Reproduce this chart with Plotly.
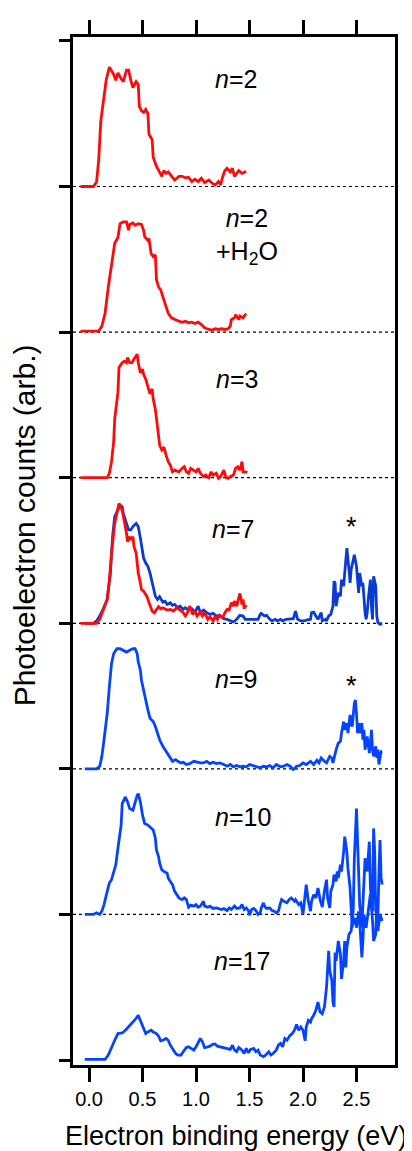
import plotly.graph_objects as go

# ---------------- data ----------------
x_n2 = [-0.08, 0.04, 0.07, 0.09, 0.11, 0.13, 0.16, 0.19, 0.23, 0.25, 0.27, 0.30, 0.32, 0.35, 0.37, 0.39,
        0.41, 0.44, 0.46, 0.47, 0.49, 0.51, 0.53, 0.55, 0.56, 0.59, 0.60, 0.63, 0.65, 0.68, 0.70, 0.72,
        0.74, 0.77, 0.80, 0.84, 0.87, 0.90, 0.93, 0.96, 0.99, 1.02, 1.05, 1.08, 1.12, 1.15, 1.18, 1.21,
        1.23, 1.25, 1.27, 1.29, 1.32, 1.34, 1.36, 1.40, 1.43, 1.46, 1.47]
y_n2 = [0.0, 0.0, 0.03, 0.18, 0.45, 0.57, 0.73, 0.82, 0.77, 0.73, 0.78, 0.74, 0.72, 0.80, 0.80, 0.73,
        0.68, 0.72, 0.70, 0.55, 0.52, 0.51, 0.53, 0.50, 0.36, 0.32, 0.20, 0.14, 0.11, 0.07, 0.11, 0.09,
        0.10, 0.07, 0.045, 0.07, 0.07, 0.06, 0.064, 0.034, 0.05, 0.034, 0.057, 0.027, 0.045, 0.023, 0.011, 0.034,
        0.011, 0.07, 0.11, 0.125, 0.10, 0.125, 0.07, 0.11, 0.09, 0.10, 0.10]

x_n2w = [-0.08, 0.09, 0.12, 0.15, 0.18, 0.21, 0.24, 0.27, 0.29, 0.32, 0.35, 0.37, 0.38, 0.41, 0.43, 0.46,
         0.49, 0.51, 0.52, 0.55, 0.56, 0.58, 0.60, 0.62, 0.63, 0.65, 0.67, 0.70, 0.72, 0.74, 0.77, 0.80,
         0.84, 0.87, 0.90, 0.93, 0.96, 0.99, 1.02, 1.05, 1.08, 1.12, 1.15, 1.18, 1.21, 1.24, 1.27, 1.30,
         1.32, 1.33, 1.36, 1.37, 1.40, 1.41, 1.44, 1.46, 1.47]
y_n2w = [0.007, 0.007, 0.04, 0.13, 0.31, 0.47, 0.61, 0.65, 0.745, 0.757, 0.757, 0.70, 0.74, 0.75, 0.734, 0.745,
         0.74, 0.70, 0.655, 0.63, 0.643, 0.54, 0.518, 0.53, 0.36, 0.31, 0.29, 0.22, 0.177, 0.13, 0.098, 0.086,
         0.075, 0.068, 0.075, 0.064, 0.068, 0.059, 0.068, 0.052, 0.03, 0.018, 0.014, 0.023, 0.018, 0.023, 0.018, 0.023,
         0.04, 0.086, 0.098, 0.12, 0.086, 0.11, 0.098, 0.12, 0.125]

x_n3 = [-0.08, 0.17, 0.19, 0.21, 0.23, 0.24, 0.27, 0.28, 0.31, 0.33, 0.35, 0.36, 0.38, 0.40, 0.42, 0.45,
        0.46, 0.48, 0.50, 0.51, 0.53, 0.56, 0.57, 0.59, 0.60, 0.62, 0.63, 0.65, 0.66, 0.68, 0.70, 0.72,
        0.74, 0.76, 0.78, 0.80, 0.84, 0.87, 0.89, 0.91, 0.93, 0.95, 0.98, 1.00, 1.02, 1.04, 1.07, 1.09,
        1.12, 1.14, 1.16, 1.19, 1.21, 1.23, 1.26, 1.28, 1.30, 1.32, 1.35, 1.37, 1.39, 1.41, 1.43, 1.44,
        1.46, 1.48]
y_n3 = [0.0, 0.0, 0.03, 0.11, 0.245, 0.405, 0.586, 0.757, 0.79, 0.80, 0.79, 0.825, 0.79, 0.79, 0.814, 0.848,
        0.79, 0.72, 0.745, 0.71, 0.677, 0.61, 0.575, 0.61, 0.54, 0.47, 0.405, 0.314, 0.223, 0.19, 0.21, 0.155,
        0.11, 0.086, 0.04, 0.052, 0.04, 0.064, 0.075, 0.04, 0.03, 0.064, 0.052, 0.04, 0.064, 0.03, 0.007, 0.018,
        0.0, 0.04, 0.018, 0.03, -0.005, 0.007, 0.052, 0.0, -0.005, 0.007, 0.018, 0.064, 0.075, 0.052, 0.11, 0.04,
        0.04, 0.036]

x_n7_red = [-0.08, 0.07, 0.10, 0.13, 0.17, 0.19, 0.21, 0.24, 0.27, 0.28, 0.31, 0.33, 0.35, 0.36, 0.38, 0.39,
            0.41, 0.42, 0.44, 0.45, 0.46, 0.48, 0.49, 0.51, 0.52, 0.54, 0.55, 0.57, 0.59, 0.61, 0.63, 0.65,
            0.67, 0.69, 0.73, 0.76, 0.79, 0.82, 0.85, 0.88, 0.90, 0.92, 0.94, 0.97, 0.99, 1.01, 1.04, 1.06,
            1.08, 1.11, 1.13, 1.16, 1.18, 1.20, 1.22, 1.25, 1.27, 1.29, 1.31, 1.33, 1.35, 1.36, 1.38, 1.40,
            1.41, 1.43, 1.44, 1.45, 1.46, 1.47]
y_n7_red = [0.0, 0.0, 0.027, 0.084, 0.164, 0.30, 0.482, 0.686, 0.80, 0.823, 0.777, 0.709, 0.618, 0.561, 0.595, 0.573,
            0.595, 0.527, 0.482, 0.414, 0.345, 0.277, 0.232, 0.22, 0.209, 0.186, 0.164, 0.118, 0.084, 0.073, 0.095, 0.114,
            0.10, 0.107, 0.091, 0.095, 0.084, 0.107, 0.091, 0.073, 0.05, 0.073, 0.118, 0.061, 0.084, 0.05, 0.077, 0.05,
            0.073, 0.027, 0.045, 0.016, 0.05, 0.027, 0.055, 0.039, 0.073, 0.095, 0.091, 0.141, 0.118, 0.152, 0.118, 0.186,
            0.205, 0.13, 0.164, 0.10, 0.123, 0.111]

x_n7_blue = [-0.04, 0.04, 0.07, 0.10, 0.13, 0.17, 0.20, 0.22, 0.24, 0.27, 0.29, 0.31, 0.32, 0.35, 0.37, 0.39,
             0.41, 0.44, 0.46, 0.48, 0.50, 0.51, 0.53, 0.55, 0.57, 0.59, 0.60, 0.62, 0.64, 0.66, 0.69, 0.71,
             0.73, 0.76, 0.78, 0.80, 0.83, 0.85, 0.88, 0.90, 0.93, 0.96, 0.99, 1.02, 1.04, 1.07, 1.10, 1.13,
             1.16, 1.19, 1.22, 1.26, 1.29, 1.32, 1.35, 1.38, 1.41, 1.44, 1.46, 1.49, 1.52, 1.55, 1.58, 1.60,
             1.61, 1.64, 1.66, 1.69, 1.71, 1.74, 1.76, 1.79, 1.81, 1.84, 1.88, 1.91, 1.93, 1.95, 1.98, 2.01,
             2.04, 2.07, 2.08, 2.10, 2.12, 2.14, 2.17, 2.18, 2.21, 2.22, 2.24, 2.26, 2.28, 2.29, 2.30, 2.31,
             2.33, 2.35, 2.36, 2.38, 2.39, 2.40, 2.41, 2.43, 2.44, 2.45, 2.47, 2.48, 2.50, 2.51, 2.52, 2.53,
             2.55, 2.56, 2.57, 2.58, 2.59, 2.60, 2.61, 2.63, 2.64, 2.65, 2.66, 2.68, 2.69, 2.70, 2.72, 2.74]
y_n7_blue = [0.0, 0.0, 0.016, 0.05, 0.095, 0.164, 0.345, 0.595, 0.732, 0.777, 0.811, 0.80, 0.755, 0.686, 0.641, 0.641,
             0.664, 0.686, 0.664, 0.584, 0.493, 0.448, 0.414, 0.391, 0.345, 0.277, 0.232, 0.186, 0.164, 0.182, 0.145, 0.152,
             0.13, 0.141, 0.123, 0.13, 0.107, 0.118, 0.095, 0.107, 0.091, 0.10, 0.077, 0.118, 0.073, 0.091, 0.073, 0.061,
             0.068, 0.05, 0.055, 0.032, 0.027, 0.016, 0.009, 0.027, 0.055, 0.05, 0.027, 0.027, 0.027, 0.032, 0.027, 0.061,
             0.068, 0.05, 0.055, 0.027, 0.016, 0.027, 0.016, 0.027, 0.016, 0.027, 0.027, 0.032, 0.084, 0.027, 0.016, 0.016,
             0.023, 0.027, 0.073, 0.077, 0.05, 0.027, 0.073, 0.016, 0.027, 0.016, 0.05, 0.061, 0.118, 0.289, 0.277, 0.118,
             0.209, 0.186, 0.30, 0.255, 0.345, 0.459, 0.516, 0.368, 0.277, 0.368, 0.436, 0.47, 0.391, 0.323, 0.209, 0.345,
             0.255, 0.277, 0.141, 0.073, 0.027, 0.073, 0.164, 0.30, 0.118, 0.027, 0.323, 0.255, 0.05, 0.005, -0.007, 0.0]

x_n9 = [-0.04, 0.07, 0.10, 0.12, 0.14, 0.17, 0.19, 0.21, 0.23, 0.26, 0.29, 0.32, 0.35, 0.38, 0.41, 0.43,
        0.45, 0.46, 0.48, 0.49, 0.51, 0.53, 0.55, 0.57, 0.60, 0.62, 0.64, 0.66, 0.69, 0.72, 0.75, 0.78,
        0.81, 0.83, 0.86, 0.88, 0.91, 0.94, 0.98, 1.01, 1.04, 1.07, 1.10, 1.13, 1.16, 1.19, 1.22, 1.26,
        1.29, 1.32, 1.35, 1.38, 1.41, 1.44, 1.47, 1.50, 1.54, 1.57, 1.60, 1.63, 1.66, 1.69, 1.72, 1.75,
        1.79, 1.82, 1.85, 1.88, 1.91, 1.94, 1.97, 2.00, 2.03, 2.07, 2.10, 2.13, 2.15, 2.17, 2.20, 2.22,
        2.25, 2.27, 2.28, 2.30, 2.31, 2.33, 2.35, 2.36, 2.38, 2.39, 2.41, 2.42, 2.44, 2.45, 2.46, 2.48,
        2.49, 2.50, 2.51, 2.52, 2.53, 2.55, 2.56, 2.57, 2.58, 2.60, 2.61, 2.62, 2.63, 2.64, 2.65, 2.66,
        2.68, 2.69, 2.70, 2.71, 2.73, 2.74]
y_n9 = [0.0, 0.0, 0.018, 0.086, 0.20, 0.382, 0.564, 0.723, 0.791, 0.825, 0.825, 0.814, 0.802, 0.814, 0.825, 0.825,
        0.791, 0.734, 0.677, 0.609, 0.541, 0.45, 0.405, 0.348, 0.325, 0.291, 0.245, 0.20, 0.155, 0.12, 0.086, 0.052,
        0.064, 0.052, 0.041, 0.045, 0.03, 0.036, 0.052, 0.045, 0.041, 0.041, 0.052, 0.036, 0.045, 0.036, 0.041, 0.03,
        0.018, 0.03, 0.014, 0.023, 0.014, 0.018, 0.014, 0.03, 0.018, 0.014, 0.007, 0.018, 0.014, 0.023, 0.007, 0.03,
        0.014, 0.018, 0.03, 0.018, -0.005, 0.018, 0.023, 0.041, 0.03, 0.052, 0.03, 0.059, 0.041, 0.075, 0.052, 0.041,
        0.086, 0.075, 0.041, 0.109, 0.132, 0.177, 0.189, 0.245, 0.325, 0.268, 0.314, 0.245, 0.37, 0.314, 0.291, 0.45,
        0.473, 0.382, 0.245, 0.314, 0.245, 0.314, 0.20, 0.268, 0.132, 0.223, 0.155, 0.109, 0.177, 0.268, 0.132, 0.086,
        0.155, 0.075, 0.132, 0.03, 0.12, 0.123]

x_n10 = [-0.04, 0.04, 0.07, 0.10, 0.12, 0.14, 0.17, 0.19, 0.21, 0.23, 0.25, 0.27, 0.30, 0.31, 0.34, 0.36,
         0.38, 0.41, 0.43, 0.45, 0.46, 0.48, 0.50, 0.52, 0.55, 0.57, 0.60, 0.62, 0.63, 0.65, 0.66, 0.68,
         0.70, 0.73, 0.74, 0.76, 0.78, 0.80, 0.82, 0.84, 0.87, 0.89, 0.91, 0.93, 0.95, 0.98, 1.00, 1.02,
         1.04, 1.07, 1.08, 1.11, 1.13, 1.16, 1.19, 1.22, 1.24, 1.26, 1.29, 1.31, 1.33, 1.36, 1.38, 1.41,
         1.43, 1.45, 1.47, 1.49, 1.50, 1.52, 1.54, 1.56, 1.58, 1.60, 1.61, 1.63, 1.64, 1.66, 1.69, 1.71,
         1.73, 1.75, 1.77, 1.79, 1.80, 1.82, 1.85, 1.87, 1.89, 1.92, 1.93, 1.96, 1.98, 2.00, 2.02, 2.03,
         2.05, 2.07, 2.08, 2.10, 2.12, 2.14, 2.16, 2.18, 2.20, 2.22, 2.23, 2.25, 2.26, 2.28, 2.29, 2.31,
         2.32, 2.33, 2.35, 2.36, 2.38, 2.39, 2.41, 2.42, 2.44, 2.45, 2.46, 2.47, 2.48, 2.50, 2.51, 2.52,
         2.53, 2.55, 2.56, 2.57, 2.58, 2.60, 2.61, 2.62, 2.63, 2.65, 2.66, 2.67, 2.68, 2.70, 2.71, 2.72,
         2.73, 2.74]
y_n10 = [0.0, 0.0, 0.011, 0.0, 0.023, 0.068, 0.159, 0.216, 0.239, 0.284, 0.341, 0.455, 0.614, 0.761, 0.807, 0.773,
         0.727, 0.716, 0.773, 0.818, 0.83, 0.773, 0.682, 0.625, 0.614, 0.602, 0.58, 0.523, 0.443, 0.398, 0.352, 0.307,
         0.295, 0.284, 0.25, 0.227, 0.205, 0.159, 0.136, 0.114, 0.102, 0.114, 0.102, 0.05, 0.064, 0.057, 0.068, 0.05,
         0.057, 0.091, 0.057, 0.05, 0.057, 0.041, 0.045, 0.041, 0.034, 0.041, 0.027, 0.045, 0.034, 0.057, 0.041, 0.045,
         0.068, 0.034, 0.045, 0.027, -0.005, 0.034, 0.041, 0.027, 0.0, 0.011, 0.045, 0.08, 0.057, 0.041, 0.045, 0.027,
         0.023, 0.011, 0.023, 0.08, 0.102, 0.091, 0.08, 0.102, 0.114, 0.091, 0.102, 0.068, 0.08, 0.0, 0.114, 0.205,
         0.091, 0.023, 0.091, 0.136, 0.114, 0.182, 0.102, 0.05, 0.159, 0.239, 0.114, 0.045, 0.159, 0.205, 0.273, 0.227,
         0.295, 0.25, 0.341, 0.295, 0.432, 0.534, 0.432, 0.318, 0.182, 0.023, -0.091, 0.045, 0.386, 0.727, 0.523, 0.227,
         0.068, -0.091, 0.114, 0.295, 0.386, 0.295, 0.432, 0.50, 0.182, 0.023, 0.591, 0.432, 0.023, -0.023, 0.295, 0.511,
         0.25, 0.205]

x_n17 = [-0.04, 0.15, 0.18, 0.21, 0.24, 0.27, 0.31, 0.34, 0.37, 0.40, 0.43, 0.46, 0.48, 0.51, 0.53, 0.55,
         0.58, 0.60, 0.63, 0.65, 0.67, 0.69, 0.72, 0.74, 0.76, 0.79, 0.81, 0.83, 0.86, 0.88, 0.91, 0.93,
         0.95, 0.98, 1.00, 1.02, 1.04, 1.06, 1.08, 1.11, 1.13, 1.16, 1.18, 1.20, 1.22, 1.25, 1.27, 1.29,
         1.32, 1.34, 1.36, 1.38, 1.40, 1.43, 1.45, 1.47, 1.49, 1.51, 1.54, 1.56, 1.58, 1.60, 1.63, 1.65,
         1.68, 1.70, 1.72, 1.75, 1.77, 1.79, 1.81, 1.83, 1.85, 1.88, 1.90, 1.92, 1.94, 1.96, 1.98, 2.00,
         2.02, 2.03, 2.05, 2.07, 2.08, 2.10, 2.12, 2.14, 2.15, 2.16, 2.18, 2.20, 2.22, 2.24, 2.25, 2.27,
         2.28, 2.29, 2.30, 2.31, 2.33, 2.35, 2.36, 2.38, 2.39, 2.40, 2.41, 2.43, 2.45, 2.46, 2.48, 2.49,
         2.50, 2.52, 2.53, 2.55, 2.56, 2.57, 2.59, 2.61, 2.63, 2.65, 2.66, 2.68, 2.69, 2.70, 2.72, 2.74]
y_n17 = [0.005, 0.005, 0.034, 0.091, 0.136, 0.182, 0.186, 0.205, 0.227, 0.25, 0.277, 0.307, 0.273, 0.216, 0.182, 0.193,
         0.205, 0.193, 0.182, 0.164, 0.132, 0.136, 0.148, 0.136, 0.102, 0.068, 0.045, 0.034, 0.034, 0.057, 0.086, 0.091,
         0.08, 0.068, 0.091, 0.125, 0.148, 0.125, 0.086, 0.091, 0.095, 0.109, 0.109, 0.095, 0.091, 0.086, 0.08, 0.08,
         0.073, 0.102, 0.068, 0.057, 0.086, 0.068, 0.045, 0.08, 0.05, 0.073, 0.08, 0.057, 0.068, 0.034, 0.023, 0.034,
         0.057, 0.034, 0.045, 0.068, 0.102, 0.114, 0.091, 0.148, 0.136, 0.17, 0.182, 0.205, 0.245, 0.205, 0.227, 0.205,
         0.132, 0.227, 0.273, 0.261, 0.284, 0.307, 0.341, 0.398, 0.364, 0.33, 0.318, 0.364, 0.50, 0.75, 0.614, 0.545,
         0.398, 0.364, 0.739, 0.682, 0.818, 0.727, 0.557, 0.682, 0.818, 0.636, 0.773, 0.864, 0.886, 0.955, 0.932, 0.977,
         0.909, 1.02, 0.955, 0.705, 0.818, 1.0, 0.909, 1.02, 1.14, 0.955, 0.818, 0.864, 1.09, 0.886, 1.0, 0.955]

# panels from top to bottom: label, traces (x, y, colour key)
panel_labels = ["<i>n</i>=2", "<i>n</i>=2<br>+H<sub>2</sub>O", "<i>n</i>=3", "<i>n</i>=7",
                "<i>n</i>=9", "<i>n</i>=10", "<i>n</i>=17"]
panel_traces = [
    [(x_n2, y_n2, "red")],
    [(x_n2w, y_n2w, "red")],
    [(x_n3, y_n3, "red")],
    [(x_n7_blue, y_n7_blue, "darkblue"), (x_n7_red, y_n7_red, "red")],
    [(x_n9, y_n9, "blue")],
    [(x_n10, y_n10, "blue")],
    [(x_n17, y_n17, "blue")],
]
x_ticks = [0.0, 0.5, 1.0, 1.5, 2.0, 2.5]

# ---------------- styles / layout ----------------
colors = {"red": "#ff0a0a", "darkblue": "#0a3bd2", "blue": "#0544ff"}
FONT = "Liberation Sans, Arial, Helvetica, sans-serif"
n_panels = len(panel_labels)
# label positions (x in eV, height above its baseline in panel units)
label_pos = [(1.37, 0.74), (1.48, 0.66), (1.38, 0.68), (1.35, 0.65), (1.37, 0.62), (1.44, 0.67), (1.43, 0.68)]
star_pos = {"<i>n</i>=7": (2.45, 0.66), "<i>n</i>=9": (2.45, 0.57)}

fig = go.Figure()
annotations = []
shapes = []
for i, (label, traces) in enumerate(zip(panel_labels, panel_traces)):
    offset = n_panels - 1 - i
    for xs, ys, ck in traces:
        fig.add_trace(go.Scatter(
            x=xs, y=[v + offset for v in ys], mode="lines",
            line=dict(color=colors[ck], width=2.8), showlegend=False, hoverinfo="skip"))
    lx, ly = label_pos[i]
    annotations.append(dict(x=lx, y=offset + ly, xref="x", yref="y", text=label, showarrow=False,
                            font=dict(family=FONT, size=25, color="black"), xanchor="center", yanchor="middle"))
    if label in star_pos:
        sx, sy = star_pos[label]
        annotations.append(dict(x=sx, y=offset + sy, xref="x", yref="y", text="*", showarrow=False,
                                font=dict(family=FONT, size=27, color="black"), xanchor="center", yanchor="middle"))
    if offset > 0:
        shapes.append(dict(type="line", xref="paper", x0=0, x1=1, yref="y", y0=offset, y1=offset,
                           line=dict(color="black", width=1.2, dash="dot"), layer="below"))

annotations.append(dict(text="Photoelectron counts (arb.)", xref="paper", yref="paper", x=-0.152, y=0.525,
                        textangle=-90, showarrow=False, xanchor="center", yanchor="middle",
                        font=dict(family=FONT, size=30, color="black")))
annotations.append(dict(text="Electron binding energy (eV)", xref="paper", yref="paper", x=0.505, y=-0.0695,
                        showarrow=False, xanchor="center", yanchor="middle",
                        font=dict(family=FONT, size=27, color="black")))

# the page body adds an 8 px margin, so the figure is 8 px smaller on each side
fig.update_layout(
    width=404, height=1143,
    margin=dict(l=65, r=17, t=21, b=86),
    paper_bgcolor="white", plot_bgcolor="white",
    annotations=annotations, shapes=shapes,
    xaxis=dict(range=[-0.15, 2.86], showgrid=False, zeroline=False, showline=True, linecolor="black",
               linewidth=3, mirror="ticks", ticks="outside", ticklen=14, tickwidth=3, tickcolor="black",
               tickvals=x_ticks, ticktext=[f"{v:.1f}" for v in x_ticks],
               tickfont=dict(family=FONT, size=20, color="black")),
    yaxis=dict(range=[-0.034, n_panels + 0.027], showgrid=False, zeroline=False, showline=True,
               linecolor="black", linewidth=3, mirror=True, ticks="outside", ticklen=11, tickwidth=3,
               tickcolor="black", tickvals=list(range(n_panels + 1)), showticklabels=False),
)

fig.write_html("out.html")
